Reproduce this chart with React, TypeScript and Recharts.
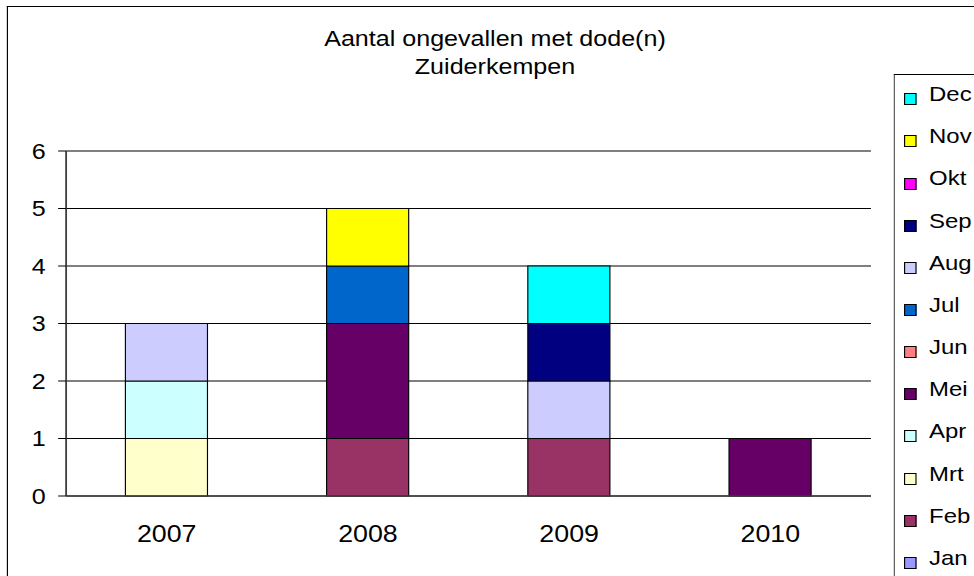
import React from 'react';
import { BarChart, Bar, XAxis, YAxis, CartesianGrid, Legend } from 'recharts';

const years = ['2007', '2008', '2009', '2010'];
const months = ['Jan', 'Feb', 'Mrt', 'Apr', 'Mei', 'Jun', 'Jul', 'Aug', 'Sep', 'Okt', 'Nov', 'Dec'];
const jan = [0, 0, 0, 0];
const feb = [0, 1, 1, 0];
const mrt = [1, 0, 0, 0];
const apr = [1, 0, 0, 0];
const mei = [0, 2, 0, 1];
const jun = [0, 0, 0, 0];
const jul = [0, 1, 0, 0];
const aug = [1, 0, 1, 0];
const sep = [0, 0, 1, 0];
const okt = [0, 0, 0, 0];
const nov = [0, 1, 0, 0];
const dec = [0, 0, 1, 0];
const yTicks = [0, 1, 2, 3, 4, 5, 6];
const boundaryTicks = [0, 1, 2, 3, 4];
const titleLines = ['Aantal ongevallen met dode(n)', 'Zuiderkempen'];

const seriesValues = [jan, feb, mrt, apr, mei, jun, jul, aug, sep, okt, nov, dec];
const colors = ['#9999FF', '#993366', '#FFFFCC', '#CCFFFF', '#660066', '#FF8080', '#0066CC', '#CCCCFF', '#000080', '#FF00FF', '#FFFF00', '#00FFFF'];

const data = years.map((y, i) => {
  const row: Record<string, string | number> = { year: y };
  months.forEach((m, k) => {
    row[m] = seriesValues[k][i];
  });
  return row;
});

const FONT = '"Liberation Sans", Arial, sans-serif';
const SX = 1.14;
const W = 855;
const H = 576;

const LegendContent = (props: any) => {
  const payload = [...(props.payload || [])].sort(
    (a: any, b: any) => months.indexOf(b.value) - months.indexOf(a.value)
  );
  return (
    <div
      style={{
        position: 'relative',
        width: 200,
        height: 560,
        borderLeft: '1.5px solid #555',
        borderTop: '1px solid #000',
        background: '#fff',
        fontFamily: FONT,
        fontSize: 21,
        color: '#000',
      }}
    >
      {payload.map((p: any, i: number) => (
        <div key={p.value} style={{ position: 'absolute', left: 0, top: i * 42.15, height: 42.15, width: 200 }}>
          <div
            style={{
              position: 'absolute',
              left: 7.9,
              top: 18.3,
              width: 10.5,
              height: 12,
              boxSizing: 'border-box',
              border: '1px solid #000',
              background: p.color,
            }}
          />
          <div style={{ position: 'absolute', left: 29.8, top: 5.2, lineHeight: '27px', whiteSpace: 'nowrap' }}>{p.value}</div>
        </div>
      ))}
    </div>
  );
};

export default function App() {
  return (
    <div style={{ position: 'absolute', left: 0, top: 0, width: 974, height: 576, overflow: 'hidden', background: '#fff' }}>
      <div style={{ position: 'absolute', left: 0, top: 0, width: W, height: H, transform: `scaleX(${SX})`, transformOrigin: '0 0' }}>
        <div
          style={{
            position: 'absolute',
            left: 6.1,
            top: 6,
            width: 900,
            height: 700,
            borderLeft: '1.6px solid #000',
            borderTop: '1.2px solid #000',
          }}
        />
        <div
          style={{
            position: 'absolute',
            left: 234.2,
            top: 25.4,
            width: 400,
            textAlign: 'center',
            fontFamily: FONT,
            fontSize: 22,
            lineHeight: '28px',
            color: '#000',
          }}
        >
          {titleLines.map((t) => (
            <div key={t}>{t}</div>
          ))}
        </div>
        <BarChart
          width={W}
          height={H}
          data={data}
          margin={{ top: 151, right: 91, bottom: 50, left: 0 }}
          barSize={72}
        >
          <CartesianGrid vertical={false} stroke="#000" strokeWidth={1} />
          <XAxis
            xAxisId="b"
            type="number"
            domain={[0, 4]}
            allowDataOverflow
            ticks={boundaryTicks}
            tick={false}
            axisLine={false}
            tickLine={{ stroke: '#404040' }}
            tickSize={8}
            height={0}
          />
          <XAxis
            dataKey="year"
            axisLine={{ stroke: '#404040', strokeWidth: 1.3 }}
            tickLine={false}
            tickSize={0}
            tickMargin={29}
            height={30}
            interval={0}
            tick={{ fontSize: 23.5, fill: '#000', fontFamily: FONT }}
          />
          <XAxis xAxisId="t" orientation="top" dataKey="year" height={0} tick={false} tickLine={false} axisLine={{ stroke: '#999', strokeWidth: 1.5 }} />
          <YAxis
            domain={[0, 6]}
            ticks={yTicks}
            interval={0}
            width={58}
            tickSize={7}
            tickMargin={11}
            axisLine={{ stroke: '#404040', strokeWidth: 1.6 }}
            tickLine={{ stroke: '#000' }}
            tick={{ fontSize: 22, fill: '#000', fontFamily: FONT }}
          />
          <YAxis yAxisId="r" orientation="right" domain={[0, 6]} width={0} tick={false} tickLine={false} axisLine={{ stroke: '#999', strokeWidth: 1.5 }} />
          <Legend
            layout="horizontal"
            verticalAlign="middle"
            align="center"
            content={<LegendContent />}
            wrapperStyle={{ left: 784.2, top: 74, width: 200, height: 560 }}
          />
          {months.map((m, k) => (
            <Bar key={m} dataKey={m} stackId="a" fill={colors[k]} stroke="#000" strokeWidth={1} isAnimationActive={false} />
          ))}
        </BarChart>
      </div>
    </div>
  );
}
